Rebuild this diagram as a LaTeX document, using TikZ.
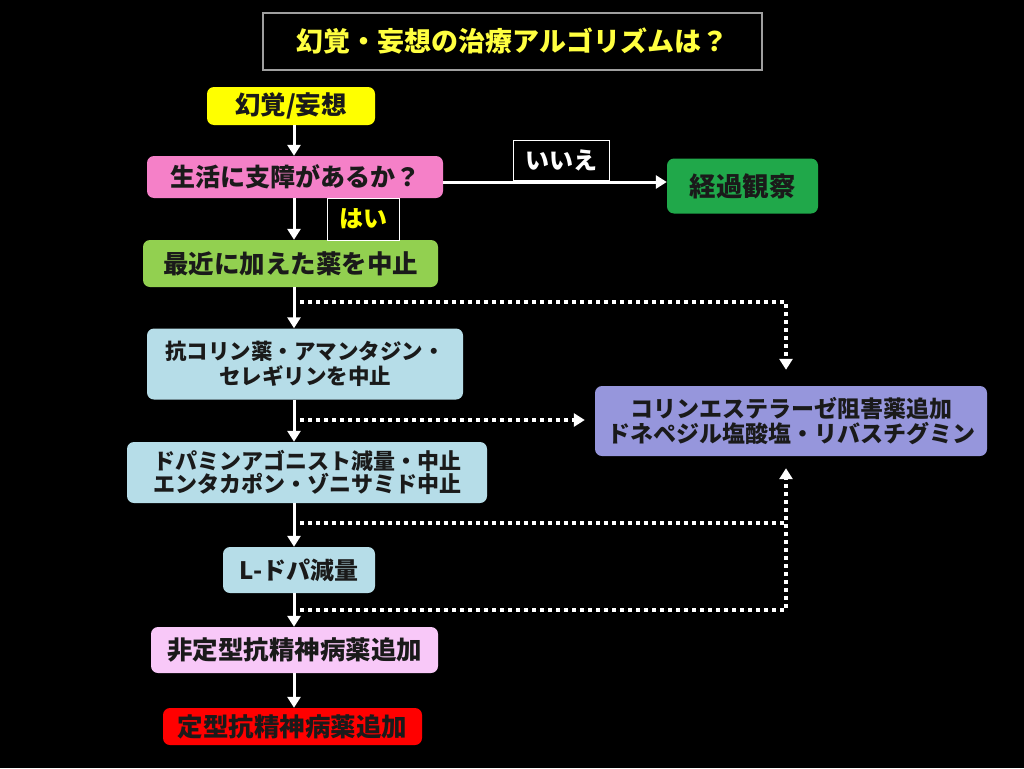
\documentclass[tikz,border=0pt]{standalone}
\usepackage{fontspec}
\setmainfont{Noto Sans CJK JP}
\usetikzlibrary{arrows.meta}
\definecolor{cyel}{HTML}{FFFF00}
\definecolor{ctitle}{HTML}{FFFF40}
\definecolor{cpink}{HTML}{F580C8}
\definecolor{cgreen}{HTML}{20A84A}
\definecolor{clgreen}{HTML}{92D050}
\definecolor{ccyan}{HTML}{B6DDE8}
\definecolor{cpurple}{HTML}{9696DC}
\definecolor{clpink}{HTML}{F8C8F8}
\definecolor{cred}{HTML}{FF0000}
\definecolor{ctext}{HTML}{1A1A1A}
\newcommand{\fs}[1]{\fontsize{#1}{#1}\selectfont}
\tikzset{
  box/.style={rectangle, rounded corners=7pt, inner sep=0pt, align=center, text=ctext, font=\bfseries\fs{24}},
  lbl/.style={rectangle, draw=white, line width=0.8pt, fill=black, inner sep=0pt, font=\bfseries\fs{24}},
  arr/.style={draw=white, line width=3pt, -{Triangle[length=11pt,width=13pt]}},
  dotline/.style={draw=white, line width=3.5pt, dash pattern=on 4pt off 4pt},
  dotarr/.style={dotline, -{Triangle[length=11pt,width=13pt]}}
}
\begin{document}
\begin{tikzpicture}[x=1pt,y=-1pt]
\fill[black] (0,0) rectangle (1024,768);
\useasboundingbox (0,0) rectangle (1024,768);
% title
\node[rectangle, draw=gray!75, line width=1.2pt, fill=black, minimum width=499pt, minimum height=57pt, text=ctitle, font=\bfseries\fs{27}] (title) at (512.5,41.5) {幻覚・妄想の治療アルゴリズムは？};
% nodes
\node[box, fill=cyel, minimum width=168pt, minimum height=38pt, font=\bfseries\fs{25.5}] (hal) at (291,106) {幻覚/妄想};
\node[box, fill=cpink, minimum width=296pt, minimum height=42pt, font=\bfseries\fs{25}] (q) at (295,177) {生活に支障があるか？};
\node[box, fill=cgreen, minimum width=151pt, minimum height=55pt, font=\bfseries\fs{26.5}] (obs) at (742.5,186) {経過観察};
\node[box, fill=clgreen, minimum width=295pt, minimum height=47pt, font=\bfseries\fs{25.5}] (stop) at (290.5,263.5) {最近に加えた薬を中止};
\node[box, fill=ccyan, minimum width=316pt, minimum height=71pt, font=\bfseries\fs{21.5}] (anti) at (305,364) {抗コリン薬・アマンタジン・\\[3pt]セレギリンを中止};
\node[box, fill=cpurple, minimum width=392pt, minimum height=70pt, font=\bfseries\fs{23}] (ache) at (791,421) {コリンエステラーゼ阻害薬追加\\[2pt]ドネペジル塩酸塩・リバスチグミン};
\node[box, fill=ccyan, minimum width=360pt, minimum height=61pt, font=\bfseries\fs{22}] (dop) at (307,472.5) {ドパミンアゴニスト減量・中止\\[1pt]エンタカポン・ゾニサミド中止};
\node[box, fill=ccyan, minimum width=152pt, minimum height=46pt] (ldopa) at (299,570) {L-ドパ減量};
\node[box, fill=clpink, minimum width=287pt, minimum height=46pt, font=\bfseries\fs{25.5}] (atyp) at (294.5,650) {非定型抗精神病薬追加};
\node[box, fill=cred, minimum width=259pt, minimum height=37pt, font=\bfseries\fs{25.5}] (typ) at (292.5,726.5) {定型抗精神病薬追加};
% labels
\node[lbl, text=cyel, minimum width=72pt, minimum height=42pt] (yes) at (363,219) {はい};
\node[lbl, text=white, minimum width=96pt, minimum height=40pt] (no) at (561,160) {いいえ};
% spine
\coordinate (sp) at (294,0);
\coordinate (vx) at (786,0);
\draw[arr] (hal.south -| sp) -- (q.north -| sp);
\draw[arr] (q.south -| sp) -- (stop.north -| sp);
\draw[arr] (stop.south -| sp) -- (anti.north -| sp);
\draw[arr] (anti.south -| sp) -- (dop.north -| sp);
\draw[arr] (dop.south -| sp) -- (ldopa.north -| sp);
\draw[arr] (ldopa.south -| sp) -- (atyp.north -| sp);
\draw[arr] (atyp.south -| sp) -- (typ.north -| sp);
\draw[arr] ([yshift=-5pt]q.east) coordinate (qe) -- (qe -| obs.west);
% dotted connectors
\coordinate (d1) at (300,302);
\coordinate (d2) at (300,420);
\coordinate (d3) at (300,523);
\coordinate (d4) at (300,610);
\draw[dotarr] (d1) -| ([yshift=16pt]ache.north -| vx);
\draw[dotarr] (d2) -- ([xshift=-10pt]ache.west |- d2);
\draw[dotline] (d3) -- (vx |- d3);
\draw[dotarr] (d4) -| ([yshift=-12pt]ache.south -| vx);
\end{tikzpicture}
\end{document}
